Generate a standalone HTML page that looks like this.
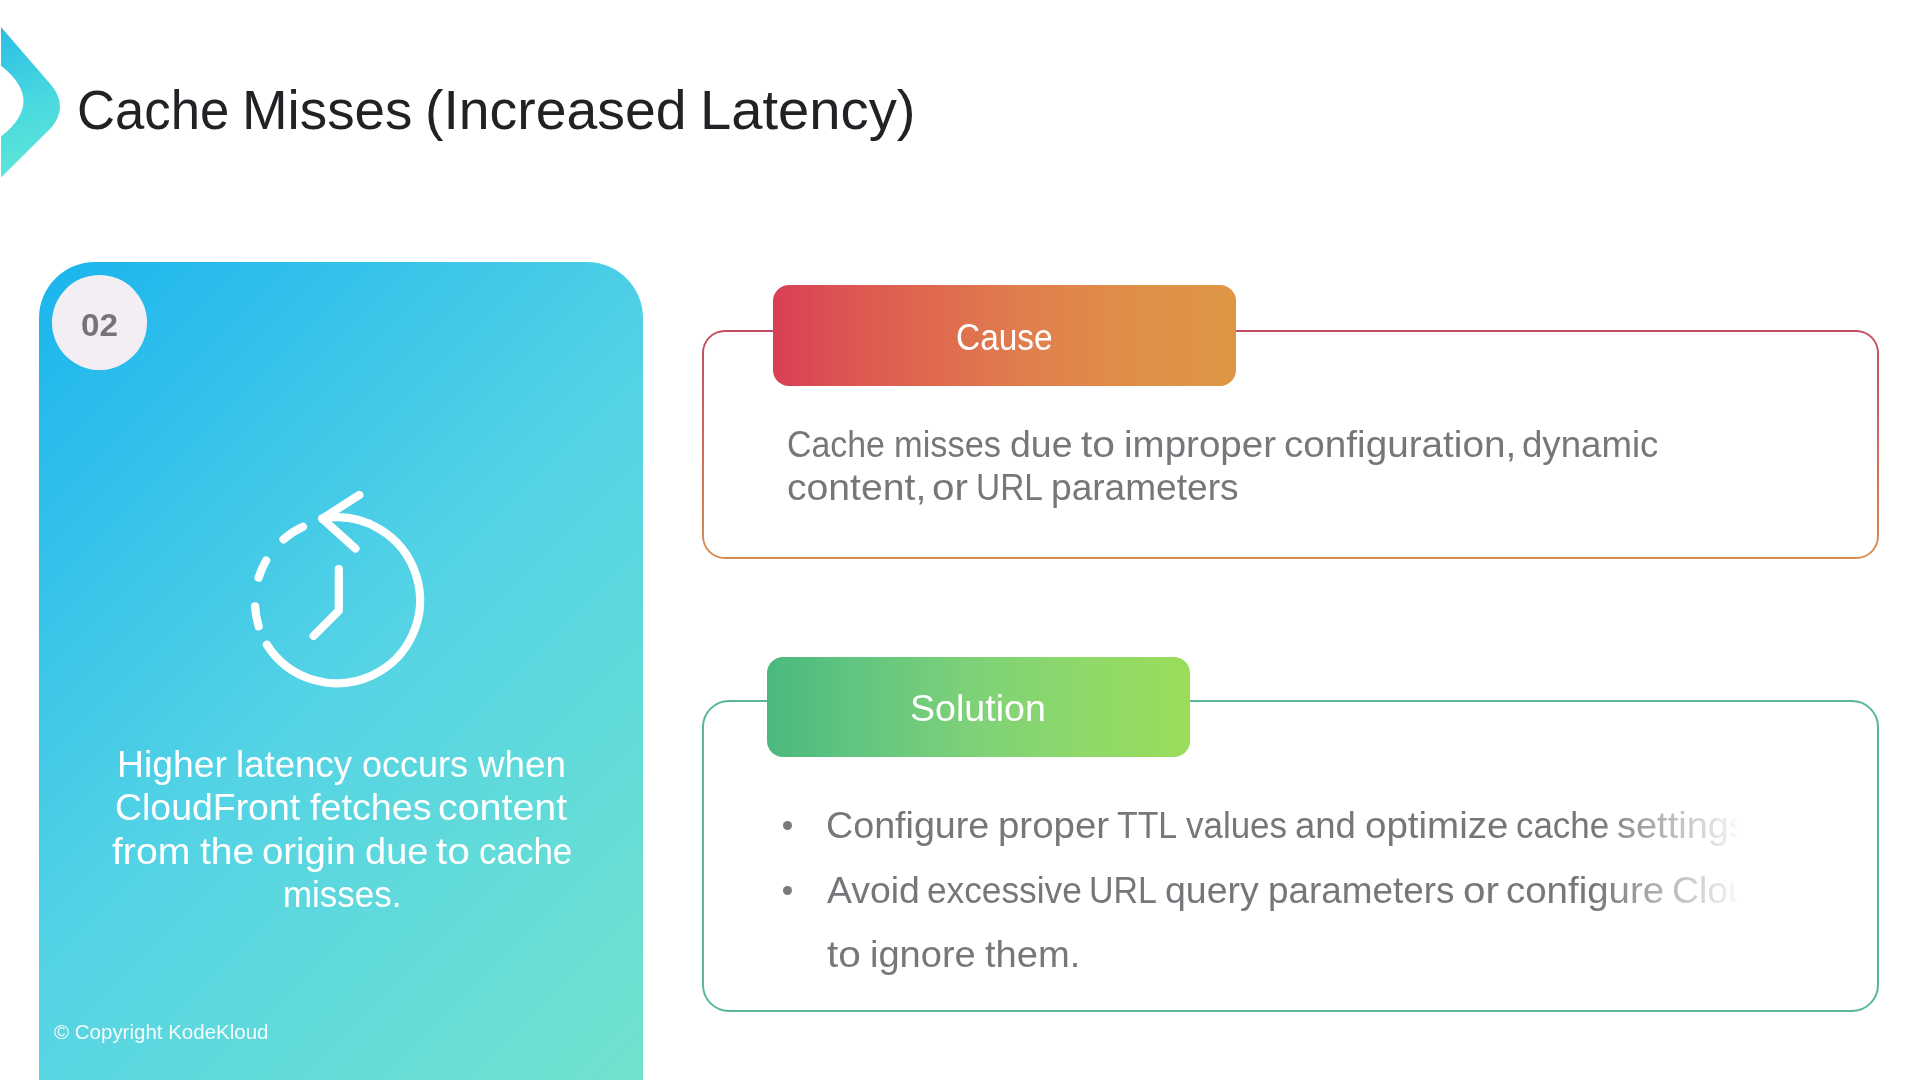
<!DOCTYPE html>
<html><head><meta charset="utf-8">
<style>
html,body{margin:0;padding:0;}
body{width:1920px;height:1080px;overflow:hidden;background:#ffffff;position:relative;font-family:"Liberation Sans",sans-serif;}
.abs{position:absolute;}
.t{position:absolute;white-space:nowrap;transform-origin:0 0;}
#card{left:39px;top:262px;width:604px;height:818px;border-radius:56px 56px 0 0;background:linear-gradient(135deg,#1bb4ee 0%,#54d3e5 50%,#71e3cd 100%);}
#badge{left:52px;top:275px;width:95px;height:95px;border-radius:50%;background:#f3eef4;}
#causebox{left:702px;top:330px;width:1177px;height:229px;padding:2.4px;box-sizing:border-box;border-radius:23px;background:linear-gradient(to bottom,#c24c60,#d88c52);}
#causebox .inner{width:100%;height:100%;background:#fff;border-radius:20.6px;}
#causehdr{left:773px;top:285px;width:463px;height:101px;border-radius:16px;background:linear-gradient(to right,#d93f55 0%,#dc5452 15%,#df6a4f 35%,#e07f4d 55%,#df8f49 78%,#de9645 100%);}
#solbox{left:702px;top:700px;width:1177px;height:312px;border:2.6px solid #58b990;box-sizing:border-box;border-radius:27px;}
#solhdr{left:767px;top:657px;width:423px;height:100px;border-radius:16px;background:linear-gradient(to right,#4ab87f 0%,#60c580 20%,#7dd178 48%,#8fd96a 75%,#99dd5a 100%);}
.dot{position:absolute;width:9px;height:9px;border-radius:50%;background:#7a7a7e;}
.fadebox{position:absolute;left:0;width:1920px;height:100px;-webkit-mask-image:linear-gradient(to right,#000 0px,#000 1595px,rgba(0,0,0,0.38) 1690px,rgba(0,0,0,0.14) 1728px,rgba(0,0,0,0) 1740px);mask-image:linear-gradient(to right,#000 0px,#000 1595px,rgba(0,0,0,0.38) 1690px,rgba(0,0,0,0.14) 1728px,rgba(0,0,0,0) 1740px);}
</style></head>
<body>
<svg class="abs" style="left:0;top:0" width="80" height="200" viewBox="0 0 80 200">
<defs><linearGradient id="cg" gradientUnits="userSpaceOnUse" x1="0" y1="27" x2="50" y2="177"><stop offset="0" stop-color="#2bbce6"/><stop offset="0.5" stop-color="#48d8df"/><stop offset="1" stop-color="#60e8d7"/></linearGradient></defs>
<path d="M1 27 L52 86 Q68 106.5 52 127 L1 177.5 L1 136.5 Q46 101 1 65.7 Z" fill="url(#cg)"/>
</svg>

<div class="t" style="left:76.58px;top:60.0px;font-size:56px;font-weight:400;line-height:100px;color:#222226;transform:scaleX(0.9404)">Cache</div>
<div class="t" style="left:241.51px;top:60.0px;font-size:56px;font-weight:400;line-height:100px;color:#222226;transform:scaleX(0.9778)">Misses</div>
<div class="t" style="left:425.25px;top:60.0px;font-size:56px;font-weight:400;line-height:100px;color:#222226;transform:scaleX(0.9887)">(Increased</div>
<div class="t" style="left:700.18px;top:60.0px;font-size:56px;font-weight:400;line-height:100px;color:#222226;transform:scaleX(1.0034)">Latency)</div>
<div id="card" class="abs"></div>
<div id="badge" class="abs"></div>
<div class="t" style="left:80.86px;top:274.6px;font-size:32px;font-weight:700;line-height:100px;color:#77717a;transform:scaleX(1.0394);">02</div>
<svg class="abs" style="left:0;top:0" width="700" height="1080">
<g fill="none" stroke="#fff" stroke-width="8.2" stroke-linecap="round" stroke-linejoin="round">
<path d="M322.3 518.6 A83 83 0 1 1 266.9 644.7"/>
<path d="M359.3 495 L322.3 518.6 L355.4 548.5"/>
<path d="M283.5 539.4 A83 83 0 0 1 302.9 526.8"/>
<path d="M258.6 577.7 A83 83 0 0 1 266.1 560.5"/>
<path d="M258.6 626.3 A83 83 0 0 1 255.1 606.3"/>
<path d="M338.8 569 L338.8 610.7 L313.6 635.9"/>
</g></svg>
<div class="t" style="left:116.94px;top:715.0px;font-size:36.5px;font-weight:400;line-height:100px;color:#ffffff;transform:scaleX(1.0216)">Higher</div>
<div class="t" style="left:236.09px;top:715.0px;font-size:36.5px;font-weight:400;line-height:100px;color:#ffffff;transform:scaleX(1.0035)">latency</div>
<div class="t" style="left:361.78px;top:715.0px;font-size:36.5px;font-weight:400;line-height:100px;color:#ffffff;transform:scaleX(0.9856)">occurs</div>
<div class="t" style="left:477.5px;top:715.0px;font-size:36.5px;font-weight:400;line-height:100px;color:#ffffff;transform:scaleX(1.0071)">when</div>
<div class="t" style="left:114.85px;top:758.3px;font-size:36.5px;font-weight:400;line-height:100px;color:#ffffff;transform:scaleX(1.0253)">CloudFront</div>
<div class="t" style="left:309.57px;top:758.3px;font-size:36.5px;font-weight:400;line-height:100px;color:#ffffff;transform:scaleX(1.033)">fetches</div>
<div class="t" style="left:437.84px;top:758.3px;font-size:36.5px;font-weight:400;line-height:100px;color:#ffffff;transform:scaleX(1.0791)">content</div>
<div class="t" style="left:112.03px;top:801.7px;font-size:36.5px;font-weight:400;line-height:100px;color:#ffffff;transform:scaleX(1.0714)">from</div>
<div class="t" style="left:199.53px;top:801.7px;font-size:36.5px;font-weight:400;line-height:100px;color:#ffffff;transform:scaleX(1.0688)">the</div>
<div class="t" style="left:261.65px;top:801.7px;font-size:36.5px;font-weight:400;line-height:100px;color:#ffffff;transform:scaleX(1.05)">origin</div>
<div class="t" style="left:364.82px;top:801.7px;font-size:36.5px;font-weight:400;line-height:100px;color:#ffffff;transform:scaleX(1.0412)">due</div>
<div class="t" style="left:436.38px;top:801.7px;font-size:36.5px;font-weight:400;line-height:100px;color:#ffffff;transform:scaleX(1.1161)">to</div>
<div class="t" style="left:478.69px;top:801.7px;font-size:36.5px;font-weight:400;line-height:100px;color:#ffffff;transform:scaleX(0.9574)">cache</div>
<div class="t" style="left:283.29px;top:844.5px;font-size:36.5px;font-weight:400;line-height:100px;color:#ffffff;transform:scaleX(0.9568)">misses.</div>
<div class="t" style="left:54.4px;top:981.75px;font-size:20px;font-weight:400;line-height:100px;color:rgba(255,255,255,0.93);transform:scaleX(1.0245);">© Copyright KodeKloud</div>
<div id="causebox" class="abs"><div class="inner"></div></div>
<div id="causehdr" class="abs"></div>
<div class="t" style="left:955.89px;top:287.7px;font-size:37px;font-weight:400;line-height:100px;color:#ffffff;transform:scaleX(0.9038);">Cause</div>
<div class="t" style="left:787.32px;top:394.9px;font-size:36px;font-weight:400;line-height:100px;color:#77777b;transform:scaleX(0.941)">Cache</div>
<div class="t" style="left:894.29px;top:394.9px;font-size:36px;font-weight:400;line-height:100px;color:#77777b;transform:scaleX(0.955)">misses</div>
<div class="t" style="left:1009.62px;top:394.9px;font-size:36px;font-weight:400;line-height:100px;color:#77777b;transform:scaleX(1.0411)">due</div>
<div class="t" style="left:1081.37px;top:394.9px;font-size:36px;font-weight:400;line-height:100px;color:#77777b;transform:scaleX(1.1321)">to</div>
<div class="t" style="left:1124.16px;top:394.9px;font-size:36px;font-weight:400;line-height:100px;color:#77777b;transform:scaleX(1.0698)">improper</div>
<div class="t" style="left:1283.65px;top:394.9px;font-size:36px;font-weight:400;line-height:100px;color:#77777b;transform:scaleX(1.0744)">configuration,</div>
<div class="t" style="left:1522.16px;top:394.9px;font-size:36px;font-weight:400;line-height:100px;color:#77777b;transform:scaleX(1.0176)">dynamic</div>
<div class="t" style="left:786.58px;top:437.5px;font-size:36px;font-weight:400;line-height:100px;color:#77777b;transform:scaleX(1.0874)">content,</div>
<div class="t" style="left:932.16px;top:437.5px;font-size:36px;font-weight:400;line-height:100px;color:#77777b;transform:scaleX(1.1207)">or</div>
<div class="t" style="left:975.96px;top:437.5px;font-size:36px;font-weight:400;line-height:100px;color:#77777b;transform:scaleX(0.9287)">URL</div>
<div class="t" style="left:1051.04px;top:437.5px;font-size:36px;font-weight:400;line-height:100px;color:#77777b;transform:scaleX(1.0302)">parameters</div>
<div id="solbox" class="abs"></div>
<div id="solhdr" class="abs"></div>
<div class="t" style="left:909.67px;top:659.25px;font-size:37px;font-weight:400;line-height:100px;color:#ffffff;transform:scaleX(1.0158);">Solution</div>
<div class="dot" style="left:782.7px;top:820.8px"></div><div class="dot" style="left:782.7px;top:886px"></div>
<div class="fadebox" style="top:776.0px"><div class="t" style="left:825.91px;top:0.0px;font-size:36px;font-weight:400;line-height:100px;color:#77777b;transform:scaleX(1.0461)">Configure</div>
<div class="t" style="left:997.57px;top:0.0px;font-size:36px;font-weight:400;line-height:100px;color:#77777b;transform:scaleX(1.0673)">proper</div>
<div class="t" style="left:1116.56px;top:0.0px;font-size:36px;font-weight:400;line-height:100px;color:#77777b;transform:scaleX(0.9403)">TTL</div>
<div class="t" style="left:1185.8px;top:0.0px;font-size:36px;font-weight:400;line-height:100px;color:#77777b;transform:scaleX(0.9709)">values</div>
<div class="t" style="left:1295.47px;top:0.0px;font-size:36px;font-weight:400;line-height:100px;color:#77777b;transform:scaleX(1.0125)">and</div>
<div class="t" style="left:1364.56px;top:0.0px;font-size:36px;font-weight:400;line-height:100px;color:#77777b;transform:scaleX(1.07)">optimize</div>
<div class="t" style="left:1516.36px;top:0.0px;font-size:36px;font-weight:400;line-height:100px;color:#77777b;transform:scaleX(0.9696)">cache</div>
<div class="t" style="left:1617.25px;top:0.0px;font-size:36px;font-weight:400;line-height:100px;color:#77777b;transform:scaleX(1.0549)">settings</div></div>
<div class="fadebox" style="top:840.7px"><div class="t" style="left:826.7px;top:0.0px;font-size:36px;font-weight:400;line-height:100px;color:#77777b;transform:scaleX(1.0379)">Avoid</div>
<div class="t" style="left:927.24px;top:0.0px;font-size:36px;font-weight:400;line-height:100px;color:#77777b;transform:scaleX(0.9792)">excessive</div>
<div class="t" style="left:1088.87px;top:0.0px;font-size:36px;font-weight:400;line-height:100px;color:#77777b;transform:scaleX(0.9426)">URL</div>
<div class="t" style="left:1164.62px;top:0.0px;font-size:36px;font-weight:400;line-height:100px;color:#77777b;transform:scaleX(1.0409)">query</div>
<div class="t" style="left:1267.95px;top:0.0px;font-size:36px;font-weight:400;line-height:100px;color:#77777b;transform:scaleX(1.024)">parameters</div>
<div class="t" style="left:1462.76px;top:0.0px;font-size:36px;font-weight:400;line-height:100px;color:#77777b;transform:scaleX(1.1207)">or</div>
<div class="t" style="left:1506.17px;top:0.0px;font-size:36px;font-weight:400;line-height:100px;color:#77777b;transform:scaleX(1.0674)">configure</div>
<div class="t" style="left:1672.12px;top:0.0px;font-size:36px;font-weight:400;line-height:100px;color:#77777b;transform:scaleX(1.0386)">CloudFront</div></div>
<div class="t" style="left:827.28px;top:905.0px;font-size:36px;font-weight:400;line-height:100px;color:#77777b;transform:scaleX(1.125)">to</div>
<div class="t" style="left:870.49px;top:905.0px;font-size:36px;font-weight:400;line-height:100px;color:#77777b;transform:scaleX(1.0562)">ignore</div>
<div class="t" style="left:985.34px;top:905.0px;font-size:36px;font-weight:400;line-height:100px;color:#77777b;transform:scaleX(1.0593)">them.</div>
</body></html>
